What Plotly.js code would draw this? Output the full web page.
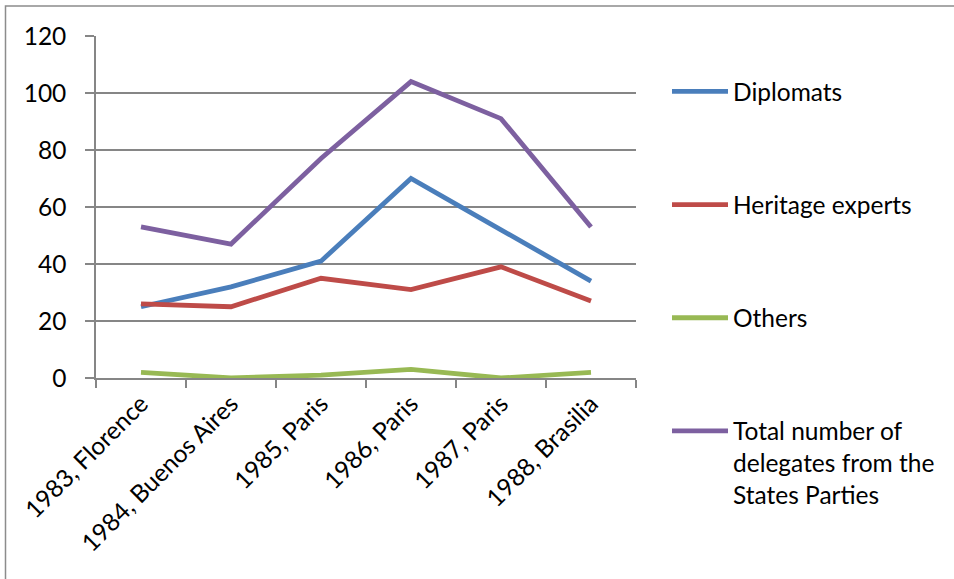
<!DOCTYPE html>
<html>
<head>
<meta charset="utf-8">
<script src="https://cdn.plot.ly/plotly-3.0.1.min.js"></script>
<style>html,body{margin:0;padding:0;background:#fff;}#chart{width:954px;height:579px;}</style>
</head>
<body>
<div id="chart"></div>
<script>
const categories = ["1983, Florence", "1984, Buenos Aires", "1985, Paris", "1986, Paris", "1987, Paris", "1988, Brasilia"];
const diplomats = [25, 32, 41, 70, 52, 34];
const heritageExperts = [26, 25, 35, 31, 39, 27];
const others = [2, 0, 1, 3, 0, 2];
const totalDelegates = [53, 47, 77, 104, 91, 53];
const seriesNames = ["Diplomats", "Heritage experts", "Others", "Total number of<br>delegates from the<br>States Parties"];
const seriesColors = ["#4a7ebb", "#be4b48", "#98b954", "#7d60a0"];
const seriesValues = [diplomats, heritageExperts, others, totalDelegates];

const W = 954, H = 579;
const mL = 96, mR = 318, mT = 36, mB = 201;
const pw = W - mL - mR, ph = H - mT - mB;
const px = v => (v - mL) / pw;
const py = v => (H - mB - v) / ph;

const FONT = "Lato, 'Liberation Sans', sans-serif";
const FS = 24.5;

const traces = seriesValues.map((vals, i) => ({
  type: "scatter",
  mode: "lines",
  x: categories,
  y: vals,
  name: seriesNames[i],
  legendgroup: "g" + i,
  line: {color: seriesColors[i], width: 4.8},
  hoverinfo: "x+y+name"
}));

const gray = "#868686";
const layout = {
  width: W, height: H,
  margin: {l: mL, r: mR, t: mT, b: mB, pad: 0},
  paper_bgcolor: "#ffffff",
  plot_bgcolor: "#ffffff",
  font: {family: FONT, size: FS, color: "#000000"},
  showlegend: true,
  legend: {
    x: px(667), xanchor: "left",
    y: py(69), yanchor: "top",
    traceorder: "grouped",
    tracegroupgap: 78.3,
    valign: "top",
    itemwidth: 56,
    maxheight: 560,
    bgcolor: "rgba(0,0,0,0)",
    font: {family: FONT, size: FS, color: "#000000"}
  },
  xaxis: {
    type: "category",
    range: [-0.5, 5.5],
    tickson: "boundaries",
    ticks: "outside",
    ticklen: 8,
    tickwidth: 1.5,
    tickcolor: gray,
    tickangle: -45,
    showline: true,
    linecolor: gray,
    linewidth: 1.5,
    showgrid: false,
    zeroline: false,
    tickfont: {family: FONT, size: FS, color: "#000000"},
    fixedrange: true
  },
  yaxis: {
    range: [0, 120],
    dtick: 20,
    tick0: 0,
    ticks: "outside",
    ticklen: 9,
    tickwidth: 1.5,
    tickcolor: gray,
    ticklabelstandoff: 14,
    showline: true,
    linecolor: gray,
    linewidth: 1.5,
    showgrid: true,
    gridcolor: gray,
    gridwidth: 1.6,
    zeroline: false,
    tickfont: {family: FONT, size: FS, color: "#000000"},
    fixedrange: true
  },
  shapes: [{
    type: "rect", xref: "paper", yref: "paper", layer: "below",
    x0: px(5.5), x1: px(W + 20), y0: py(6), y1: py(H + 20),
    line: {color: "#8c8c8c", width: 1.5},
    fillcolor: "rgba(0,0,0,0)"
  }]
};

Plotly.newPlot("chart", traces, layout, {displayModeBar: false});
</script>
</body>
</html>
